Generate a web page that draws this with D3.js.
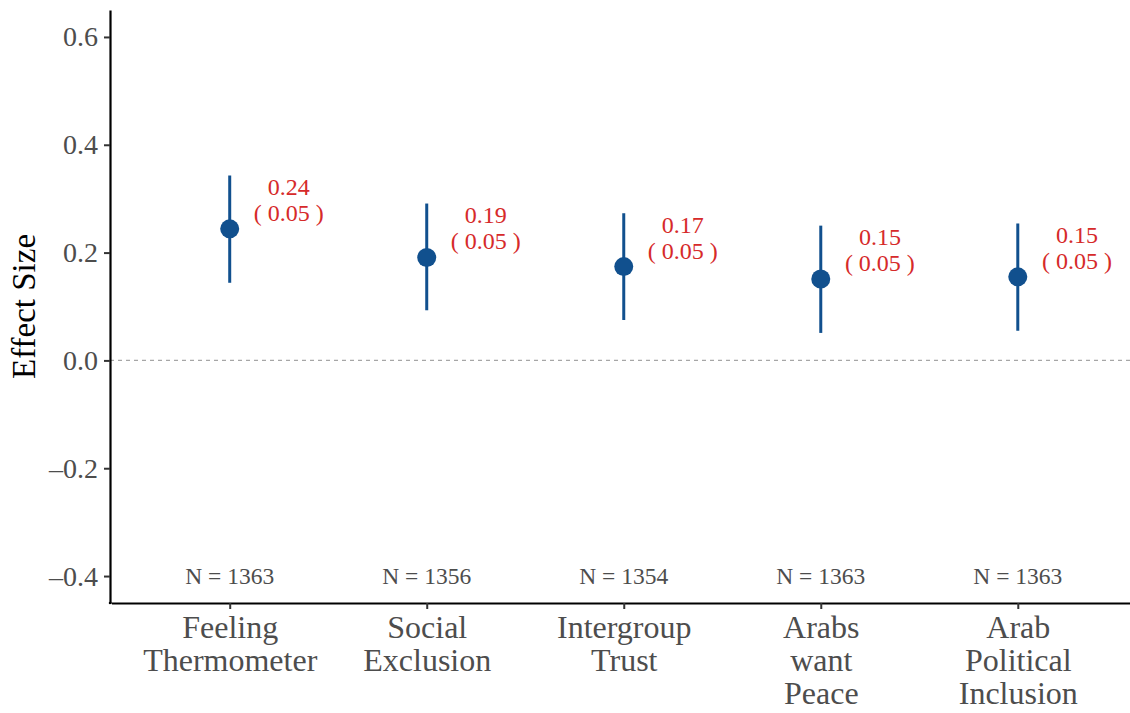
<!DOCTYPE html>
<html>
<head>
<meta charset="utf-8">
<script src="https://cdn.jsdelivr.net/npm/d3@7"></script>
<style>
  body { margin: 0; background: #fff; }
  svg { display: block; }
  svg text { font-family: "Liberation Serif", "Times New Roman", serif; }
</style>
</head>
<body>
<svg id="chart"></svg>
<script>
// outcomes (x axis), one line per array entry
var outcomes = [
  ["Feeling", "Thermometer"],
  ["Social", "Exclusion"],
  ["Intergroup", "Trust"],
  ["Arabs", "want", "Peace"],
  ["Arab", "Political", "Inclusion"]
];
var estimates = [0.244, 0.191, 0.174, 0.151, 0.155];
var lower = [0.144, 0.093, 0.075, 0.051, 0.055];
var upper = [0.343, 0.291, 0.273, 0.250, 0.254];
var estLabels = ["0.24", "0.19", "0.17", "0.15", "0.15"];
var seLabels = ["( 0.05 )", "( 0.05 )", "( 0.05 )", "( 0.05 )", "( 0.05 )"];
var nLabels = ["N = 1363", "N = 1356", "N = 1354", "N = 1363", "N = 1363"];
var yTicks = [-0.4, -0.2, 0.0, 0.2, 0.4, 0.6];

var width = 1130,
    height = 713;
var margin = {top: 10, right: -6, bottom: 110, left: 110};

var svg = d3.select("#chart")
    .attr("width", width)
    .attr("height", height);

var x = d3.scaleLinear()
    .domain([-0.6, outcomes.length - 0.4])
    .range([margin.left + 1.5, width - margin.right]);

var y = d3.scaleLinear()
    .domain([-0.45, 0.65])
    .range([height - margin.bottom, margin.top]);

var blue = "#11508e",
    red = "#d62a2a";

// zero reference line
svg.append("line")
    .attr("x1", margin.left).attr("x2", x.range()[1])
    .attr("y1", y(0)).attr("y2", y(0))
    .attr("stroke", "#a6a6a6")
    .attr("stroke-width", 1.1)
    .attr("stroke-dasharray", "4,4");

// y axis
var yAxis = d3.axisLeft(y)
    .tickValues(yTicks)
    .tickSize(6)
    .tickSizeOuter(0)
    .tickPadding(6)
    .tickFormat(function (d) { return d < 0 ? "\u2013" + d3.format(".1f")(-d) : d3.format(".1f")(d); });

var gy = svg.append("g")
    .attr("transform", "translate(" + margin.left + ",0)")
    .call(yAxis);
gy.attr("font-family", null);
gy.select(".domain").attr("stroke", "#000").attr("stroke-width", 2.2);
gy.selectAll(".tick line").attr("stroke", "#333").attr("stroke-width", 2);
gy.selectAll(".tick text")
    .attr("fill", "#4d4d4d")
    .style("font-size", "28px");

// x axis
var xAxis = d3.axisBottom(x)
    .tickValues(d3.range(outcomes.length))
    .tickSize(6)
    .tickSizeOuter(0)
    .tickFormat("");

var gx = svg.append("g")
    .attr("transform", "translate(0," + (height - margin.bottom) + ")")
    .call(xAxis);
gx.attr("font-family", null);
gx.select(".domain").attr("stroke", "#000").attr("stroke-width", 2.2);
gx.selectAll(".tick line").attr("stroke", "#333").attr("stroke-width", 2);
gx.append("line")
    .attr("x1", margin.left - 1.1).attr("x2", x.range()[0])
    .attr("stroke", "#000").attr("stroke-width", 2.2);

gx.selectAll(".tick").each(function (d) {
    var t = d3.select(this).append("text")
        .attr("fill", "#4d4d4d")
        .attr("text-anchor", "middle")
        .style("font-size", "32px");
    outcomes[d].forEach(function (line, i) {
        t.append("tspan")
            .attr("x", 0)
            .attr("y", 35 + i * 33)
            .text(line);
    });
});

// y axis title
svg.append("text")
    .attr("transform", "translate(35," + y(0.1) + ") rotate(-90)")
    .attr("text-anchor", "middle")
    .attr("fill", "#000")
    .style("font-size", "33px")
    .text("Effect Size");

// confidence intervals
svg.selectAll(".ci")
    .data(estimates)
    .enter().append("line")
    .attr("class", "ci")
    .attr("x1", function (d, i) { return x(i); })
    .attr("x2", function (d, i) { return x(i); })
    .attr("y1", function (d, i) { return y(lower[i]); })
    .attr("y2", function (d, i) { return y(upper[i]); })
    .attr("stroke", blue)
    .attr("stroke-width", 3);

// point estimates
svg.selectAll(".pt")
    .data(estimates)
    .enter().append("circle")
    .attr("class", "pt")
    .attr("cx", function (d, i) { return x(i); })
    .attr("cy", function (d) { return y(d); })
    .attr("r", 9.5)
    .attr("fill", blue);

// estimate labels
var lab = svg.selectAll(".lab")
    .data(estimates)
    .enter().append("text")
    .attr("class", "lab")
    .attr("text-anchor", "middle")
    .attr("fill", red)
    .style("font-size", "24px");
lab.append("tspan")
    .attr("x", function (d, i) { return x(i + 0.3); })
    .attr("y", function (d) { return y(d) - 34; })
    .text(function (d, i) { return estLabels[i]; });
lab.append("tspan")
    .attr("x", function (d, i) { return x(i + 0.3); })
    .attr("y", function (d) { return y(d) - 8; })
    .text(function (d, i) { return seLabels[i]; });

// sample sizes
svg.selectAll(".n")
    .data(nLabels)
    .enter().append("text")
    .attr("class", "n")
    .attr("x", function (d, i) { return x(i); })
    .attr("y", y(-0.4) + 8)
    .attr("text-anchor", "middle")
    .attr("fill", "#4d4d4d")
    .style("font-size", "23.5px")
    .text(function (d) { return d; });
</script>
</body>
</html>
